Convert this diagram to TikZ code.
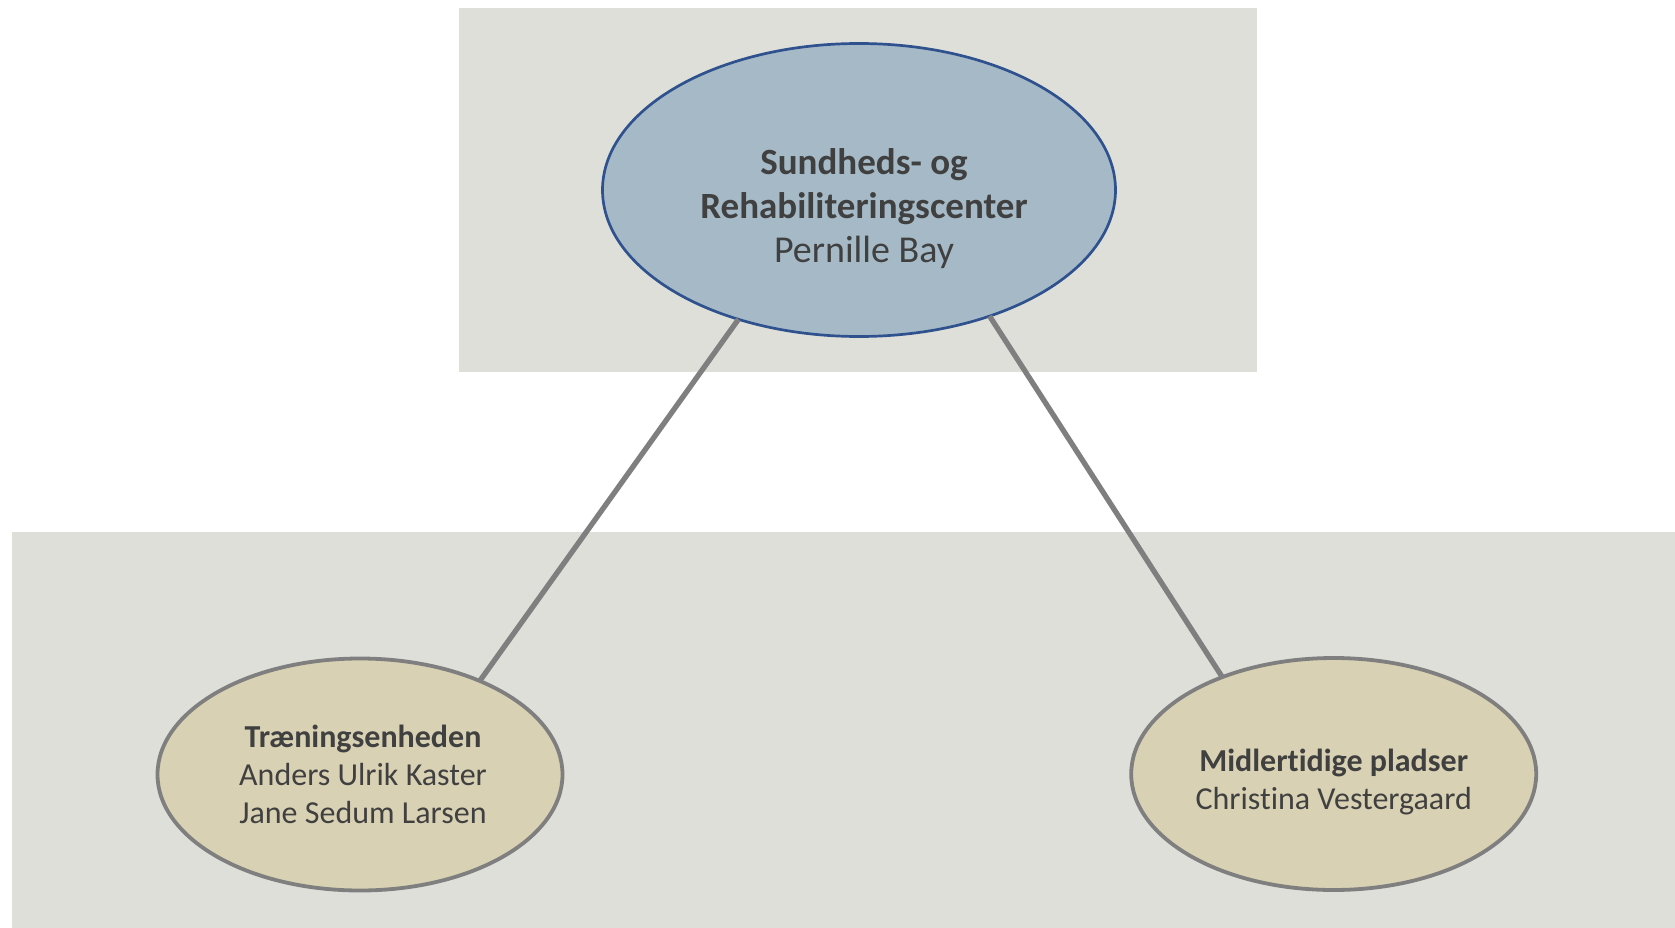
\documentclass[tikz,border=0pt]{standalone}
\usepackage{fontspec}
\setmainfont{Carlito}[Ligatures={NoCommon}]
\definecolor{panel}{RGB}{223,223,218}
\definecolor{topfill}{RGB}{165,186,198}
\definecolor{topline}{RGB}{47,82,143}
\definecolor{subfill}{RGB}{216,209,179}
\definecolor{subline}{RGB}{127,127,127}
\definecolor{txt}{RGB}{64,64,64}
\tikzset{
  panelbox/.style={fill=panel, draw=none},
  topell/.style={ellipse, fill=topfill, draw=topline, line width=2.7pt, inner sep=0pt, outer sep=0pt,
    minimum width=513pt, minimum height=293pt},
  subell/.style={ellipse, fill=subfill, draw=subline, line width=3.8pt, inner sep=0pt, outer sep=0pt,
    minimum width=405pt, minimum height=232pt},
  lbl/.style={align=center, text=txt, inner sep=0pt},
  conn/.style={draw=subline, line width=5.3pt}
}
\usetikzlibrary{shapes.geometric}
\begin{document}
\begin{tikzpicture}[x=1pt,y=-1pt]
\useasboundingbox (0,0) rectangle (1675,928);
\fill[panelbox] (459,8.5) rectangle (1257,372);
\fill[panelbox] (12,532) rectangle (1675,928);
\node[topell] (top) at (859,190) {};
\node[subell] (left) at (360,774.5) {};
\node[subell] (right) at (1333.7,774) {};
\draw[conn] (top.227.3) -- (left.38.9);
\draw[conn] (top.316.3) -- (right.139.9);
\node[lbl, font=\fontsize{37}{44}\selectfont] (toptext) at (864,209)
  {\textbf{Sundheds- og}\\\textbf{Rehabiliteringscenter}\\{\fontsize{38}{44}\selectfont Pernille Bay}};
\node[lbl, font=\fontsize{32}{38.3}\selectfont] (lefttext) at (363,774.5)
  {\textbf{Træningsenheden}\\Anders Ulrik Kaster\\Jane Sedum Larsen};
\node[lbl, font=\fontsize{32}{37.7}\selectfont] (righttext) at (1333.7,782)
  {\textbf{Midlertidige pladser}\\Christina Vestergaard};
\end{tikzpicture}
\end{document}
